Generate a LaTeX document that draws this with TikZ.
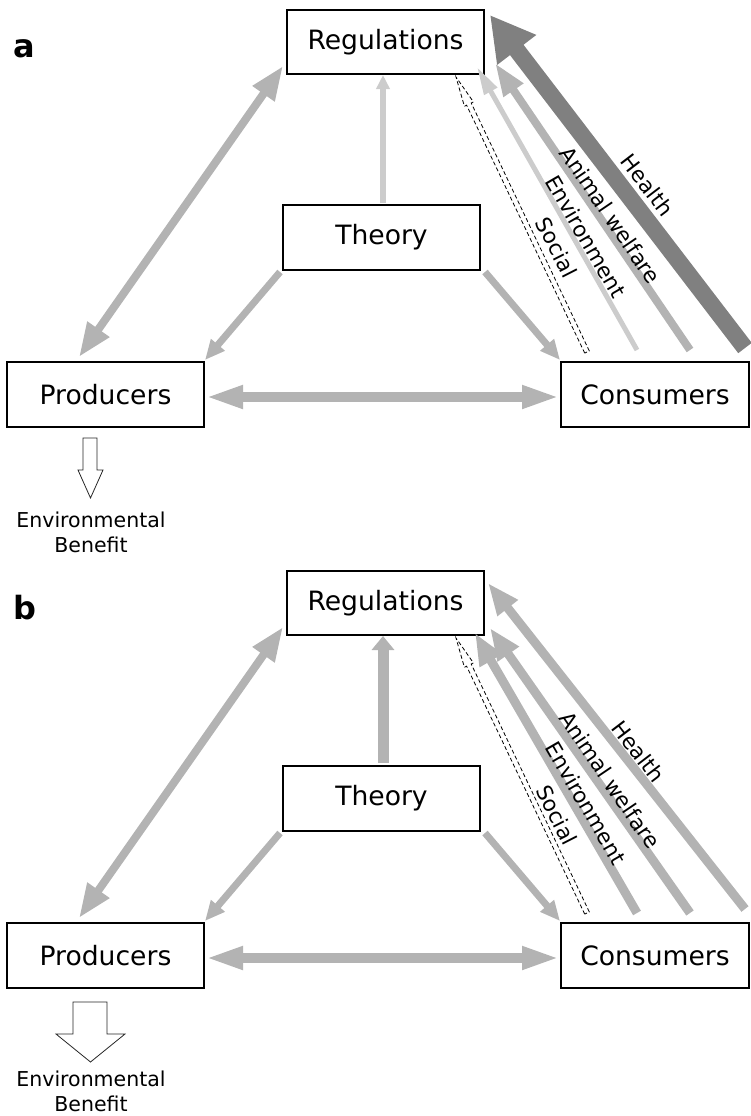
\documentclass[tikz,border=0pt]{standalone}
\usepackage{fontspec}
\setmainfont{DejaVu Sans}
\usetikzlibrary{arrows.meta,calc}
\definecolor{gmid}{RGB}{179,179,179}
\definecolor{glight}{RGB}{204,204,204}
\definecolor{gdark}{RGB}{128,128,128}
\begin{document}
\begin{tikzpicture}[x=1pt,y=-1pt,
  box/.style={draw, line width=1.8pt, minimum width=197pt, minimum height=65pt, inner sep=0pt, font=\fontsize{26.6}{32}\selectfont},
  lbl/.style={font=\fontsize{21.5}{26}\selectfont, inner sep=0pt},
  panel/.style={font=\fontsize{32}{36}\selectfont\bfseries, inner sep=0pt, anchor=base west},
  benefit/.style={font=\fontsize{20.5}{25}\selectfont, align=center, inner sep=0pt},
  garrow/.style={draw=gmid, line width=#1},
  dashedarrow/.style={draw=black, line width=0.8pt, dash pattern=on 4pt off 2.5pt},
  openarrow/.style={draw=black!85, line width=0.8pt, fill=white}
]
\useasboundingbox (0,0) rectangle (750,1116);

% ================= panel a =================
\begin{scope}
\node[panel] (lbla) at (13,58) {a};
\node[box, minimum height=64pt] (rega) at (385.5,42) {Regulations};
\node[box] (theorya) at (381.5,237.5) {Theory};
\node[box] (proda) at (105.5,394.5) {Producers};
\node[box, minimum width=188pt] (consa) at (655,394.5) {Consumers};

\coordinate (a-rp1) at (283,66);
\coordinate (a-rp2) at (79,357);
\coordinate (a-tp1) at (280,272);
\coordinate (a-tp2) at (205,360);
\coordinate (a-tc1) at (485,272);
\coordinate (a-tc2) at (560,360);
\coordinate (a-pc1) at (205,397);
\coordinate (a-pc2) at (560,397);
\coordinate (a-tr1) at (383,203);
\coordinate (a-tr2) at (383,75);
\coordinate (a-en1) at (637,350);
\coordinate (a-en2) at (477,67);
\coordinate (a-an1) at (690,350);
\coordinate (a-an2) at (495,63);
\coordinate (a-he1) at (745,348);
\coordinate (a-he2) at (490,15);

\draw[garrow=8pt, {Triangle[length=34pt,width=25pt]}-{Triangle[length=34pt,width=25pt]}] (a-rp1) -- (a-rp2);
\draw[garrow=7pt, -{Triangle[length=20pt,width=17pt]}] (a-tp1) -- (a-tp2);
\draw[garrow=7pt, -{Triangle[length=20pt,width=17pt]}] (a-tc1) -- (a-tc2);
\draw[garrow=10pt, {Triangle[length=38pt,width=21pt]}-{Triangle[length=38pt,width=21pt]}] (a-pc1) -- (a-pc2);
\draw[draw=glight, line width=6pt, -{Triangle[length=14pt,width=13pt]}] (a-tr1) -- (a-tr2);
\draw[draw=glight, line width=5pt, -{Triangle[length=28pt,width=14pt]}] (a-en1) -- (a-en2);
\draw[garrow=8pt, -{Triangle[length=33pt,width=22pt]}] (a-an1) -- (a-an2);
\draw[draw=gdark, line width=17pt, -{Triangle[length=44pt,width=46pt]}] (a-he1) -- (a-he2);
\draw[dashedarrow] (584.7,353.1) -- (466.6,105.2) -- (464.4,106.3) -- (456,77) -- (473.4,101.9) -- (471.2,103.0) -- (589.3,350.9) -- cycle;

\node[lbl, rotate=-52.6] (a-health) at (647.5,185) {Health};
\node[lbl, rotate=-55.8] (a-animal) at (610.5,215) {Animal welfare};
\node[lbl, rotate=-60] (a-env) at (586,236.5) {Environment};
\node[lbl, rotate=-63] (a-soc) at (556.5,247.5) {Social};

\draw[openarrow] (83,438) -- (97,438) -- (97,470) -- (103,470) -- (90.5,498) -- (78,470) -- (83,470) -- cycle;
\node[benefit] (eba) at (91,532) {Environmental\\Benefit};
\end{scope}

% ================= panel b =================
\begin{scope}[shift={(0,561)}]
\node[panel] (lblb) at (13,58) {b};
\node[box, minimum height=64pt] (regb) at (385.5,42) {Regulations};
\node[box] (theoryb) at (381.5,237.5) {Theory};
\node[box] (prodb) at (105.5,394.5) {Producers};
\node[box, minimum width=188pt] (consb) at (655,394.5) {Consumers};

\coordinate (b-rp1) at (283,66);
\coordinate (b-rp2) at (79,357);
\coordinate (b-tp1) at (280,272);
\coordinate (b-tp2) at (205,360);
\coordinate (b-tc1) at (485,272);
\coordinate (b-tc2) at (560,360);
\coordinate (b-pc1) at (205,397);
\coordinate (b-pc2) at (560,397);
\coordinate (b-tr1) at (383,202);
\coordinate (b-tr2) at (383,75);
\coordinate (b-en1) at (637,352);
\coordinate (b-en2) at (475,72);
\coordinate (b-an1) at (690,352);
\coordinate (b-an2) at (490,67);
\coordinate (b-he1) at (745,348);
\coordinate (b-he2) at (488,22);

\draw[garrow=8pt, {Triangle[length=34pt,width=25pt]}-{Triangle[length=34pt,width=25pt]}] (b-rp1) -- (b-rp2);
\draw[garrow=7pt, -{Triangle[length=20pt,width=17pt]}] (b-tp1) -- (b-tp2);
\draw[garrow=7pt, -{Triangle[length=20pt,width=17pt]}] (b-tc1) -- (b-tc2);
\draw[garrow=10pt, {Triangle[length=38pt,width=21pt]}-{Triangle[length=38pt,width=21pt]}] (b-pc1) -- (b-pc2);
\draw[garrow=11pt, -{Triangle[length=14pt,width=22pt]}] (b-tr1) -- (b-tr2);
\draw[garrow=9pt, -{Triangle[length=32pt,width=24pt]}] (b-en1) -- (b-en2);
\draw[garrow=9pt, -{Triangle[length=32pt,width=24pt]}] (b-an1) -- (b-an2);
\draw[garrow=9pt, -{Triangle[length=32pt,width=24pt]}] (b-he1) -- (b-he2);
\draw[dashedarrow] (584.7,353.1) -- (466.6,105.2) -- (464.4,106.3) -- (456,77) -- (473.4,101.9) -- (471.2,103.0) -- (589.3,350.9) -- cycle;

\node[lbl, rotate=-52.6] (b-health) at (638.5,190.5) {Health};
\node[lbl, rotate=-55.8] (b-animal) at (610,219) {Animal welfare};
\node[lbl, rotate=-60] (b-env) at (586,242) {Environment};
\node[lbl, rotate=-63] (b-soc) at (557,254) {Social};

\draw[openarrow] (73,441) -- (107,441) -- (107,473) -- (125,473) -- (90.5,501) -- (56,473) -- (73,473) -- cycle;
\node[benefit] (ebb) at (91,530) {Environmental\\Benefit};
\end{scope}
\end{tikzpicture}
\end{document}
